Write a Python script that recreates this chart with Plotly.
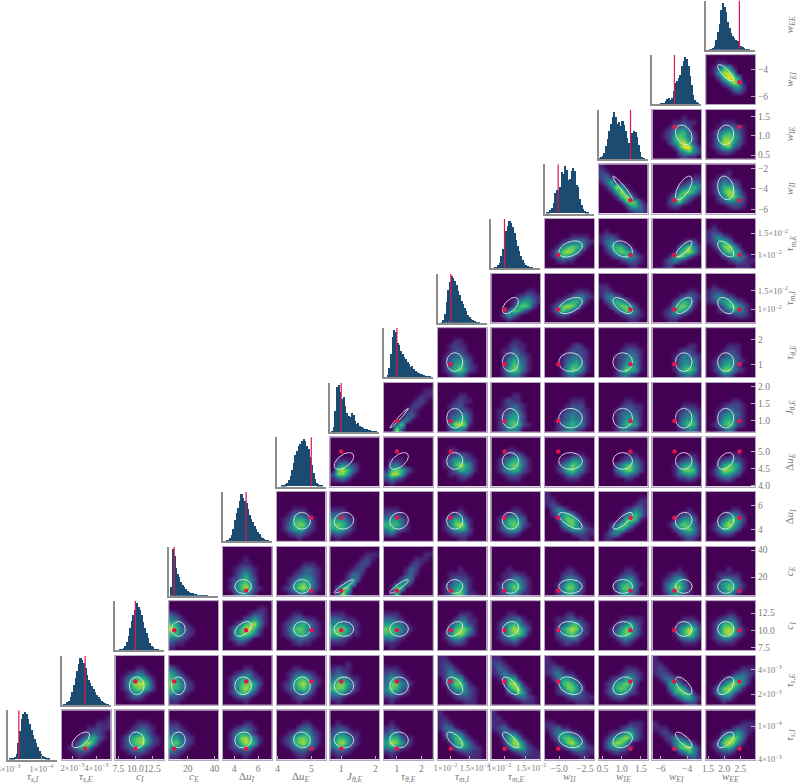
import numpy as np
import plotly.graph_objects as go

labels = ["<i>τ</i><sub><i>s,I</i></sub>", "<i>τ</i><sub><i>s,E</i></sub>", "<i>c</i><sub><i>I</i></sub>", "<i>c</i><sub><i>E</i></sub>",
          "Δ<i>u</i><sub><i>I</i></sub>", "Δ<i>u</i><sub><i>E</i></sub>", "<i>J</i><sub><i>θ,E</i></sub>", "<i>τ</i><sub><i>θ,E</i></sub>",
          "<i>τ</i><sub><i>m,I</i></sub>", "<i>τ</i><sub><i>m,E</i></sub>", "<i>w</i><sub><i>II</i></sub>", "<i>w</i><sub><i>IE</i></sub>",
          "<i>w</i><sub><i>EI</i></sub>", "<i>w</i><sub><i>EE</i></sub>"]
# axis ranges (log10 for the tau_s and tau_m parameters)
lo = [-4.404, -2.834, 7.07, 6.2, 3.06, 3.97, 0.676, 0.47, -2.125, -2.109, -6.38, 0.397, -6.6, 1.44]
hi = [-3.81, -2.22, 14.26, 42.6, 7.14, 5.42, 2.116, 2.47, -1.662, -1.704, -1.62, 1.68, -2.93, 2.955]
truth = [-4.273, -2.54, 10.0, 10.0, 5.0, 5.0, 1.0, 1.0, -2.0, -2.0, -5.1, 1.23, -4.95, 2.47]
log_axes = [0, 1, 8, 9]
L3 = "×10<sup>−3</sup>"
L4 = "×10<sup>−4</sup>"
L2 = "×10<sup>−2</sup>"
PAD = "\u00a0\u00a0\u00a0\u00a0\u00a0"
xtick_vals = [[-4.398, -4.0], [-2.699, -2.398], [7.5, 10, 12.5], [20, 40], [4, 6], [4, 5], [1, 2], [1, 2],
              [-2, -1.824], [-2, -1.824], [-5, -2.5], [0.5, 1, 1.5], [-6, -4], [1.5, 2, 2.5]]
xtick_text = [["4" + L3, "1" + L4], ["2" + L3, "4" + L3], ["7.5", "10.0", "12.5"], ["20", "40"], ["4", "6"], ["4", "5"], ["1", "2"], ["1", "2"],
              ["1" + L2 + PAD, PAD + "1.5" + L2], ["1" + L2 + PAD, PAD + "1.5" + L2], ["−5.0", "−2.5"], ["0.5", "1.0", "1.5"], ["−6", "−4"], ["1.5", "2.0", "2.5"]]
ytick_vals = [[-4.398, -4.0], [-2.699, -2.398], [7.5, 10, 12.5], [20, 40], [4, 6], [4, 4.5, 5], [1, 1.5, 2], [1, 2],
              [-2, -1.824], [-2, -1.824], [-6, -4, -2], [0.5, 1, 1.5], [-6, -4], []]
ytick_text = [["4" + L3, "1" + L4], ["2" + L3, "4" + L3], ["7.5", "10.0", "12.5"], ["20", "40"], ["4", "6"], ["4.0", "4.5", "5.0"], ["1.0", "1.5", "2.0"], ["1", "2"],
              ["1" + L2, "1.5" + L2], ["1" + L2, "1.5" + L2], ["−6", "−4", "−2"], ["0.5", "1.0", "1.5"], ["−6", "−4"], []]

# ellipse centre / half-width as fractions of each axis
ell_c = [.40, .39, .435, .19, .415, .52, .28, .31, .35, .39, .52, .49, .64, .40]
ell_r = [.16, .18, .15, .14, .17, .17, .20, .19, .165, .165, .24, .20, .17, .165]
rho_0 = [.6, -.1, 0, .1, -.1, -.05, -.05, -.65, -.75, -.2, .25, -.75, .6]
rho_1 = [0, 0, 0, 0, 0, 0, -.45, -.65, -.3, .3, -.65, .5]
rho_2 = [0, .5, 0, 0, 0, .4, .2, -.15, .1, 0, 0]
rho_3 = [0, 0, .92, .9, 0, 0, 0, 0, 0, 0]
rho_4 = [0, .1, .1, 0, -.1, -.7, .8, .1, .1]
rho_5 = [.55, .55, 0, 0, 0, 0, 0, .4]
rho_6 = [.98, 0, 0, 0, 0, 0, 0]
rho_7 = [0, 0, 0, 0, 0, 0]
rho_8 = [.55, .5, -.6, .55, -.4]
rho_9 = [.4, -.3, .8, -.6]
rho_10 = [-.95, .65, -.2]
rho_11 = [-.3, .1]
rho_12 = [-.8]
rhos = [rho_0, rho_1, rho_2, rho_3, rho_4, rho_5, rho_6, rho_7, rho_8, rho_9, rho_10, rho_11, rho_12]

# histogram heights over 30 equal bins spanning each axis
h_0 = [0, 1, 2, 3, 5, 12, 35, 60, 85, 95, 100, 95, 85, 75, 62, 52, 42, 35, 26, 18, 12, 8, 5, 3, 2, 1, 0, 0, 0, 0]
h_1 = [0, 1, 3, 6, 10, 18, 28, 42, 58, 72, 88, 100, 96, 90, 78, 64, 54, 46, 40, 34, 28, 22, 17, 13, 9, 6, 4, 2, 1, 0]
h_2 = [0, 0, 0, 1, 2, 5, 10, 18, 30, 48, 62, 75, 85, 100, 92, 85, 75, 60, 48, 36, 25, 16, 10, 6, 3, 2, 1, 0, 0, 0]
h_3 = [0, 20, 100, 85, 60, 48, 40, 30, 24, 20, 15, 12, 10, 8, 6, 5, 4, 3, 3, 2, 2, 1, 1, 1, 0, 0, 0, 0, 0, 0]
h_4 = [0, 0, 1, 3, 6, 14, 25, 45, 60, 70, 85, 100, 92, 85, 80, 68, 55, 48, 40, 32, 26, 20, 15, 10, 7, 4, 2, 1, 0, 0]
h_5 = [0, 0, 0, 1, 2, 4, 8, 14, 22, 35, 50, 65, 75, 85, 90, 95, 100, 96, 85, 78, 62, 45, 28, 15, 8, 4, 2, 1, 0, 0]
h_6 = [0, 3, 12, 45, 95, 100, 85, 70, 75, 55, 40, 34, 32, 40, 36, 24, 18, 20, 14, 12, 10, 8, 6, 5, 4, 3, 3, 2, 1, 0]
h_7 = [0, 0, 4, 20, 50, 85, 100, 95, 72, 68, 55, 50, 42, 38, 32, 28, 22, 24, 18, 14, 12, 10, 8, 6, 4, 3, 2, 2, 1, 0]
h_8 = [0, 0, 2, 6, 20, 45, 70, 88, 100, 95, 90, 80, 68, 60, 48, 40, 32, 25, 18, 13, 9, 6, 4, 2, 1, 1, 0, 0, 0, 0]
h_9 = [0, 0, 1, 3, 6, 12, 25, 40, 60, 78, 90, 100, 96, 88, 74, 60, 46, 36, 26, 18, 12, 8, 5, 3, 2, 1, 0, 0, 0, 0]
h_10 = [0, 1, 3, 6, 12, 22, 42, 50, 48, 55, 88, 82, 100, 92, 70, 72, 90, 95, 90, 60, 55, 30, 18, 10, 5, 2, 1, 0, 0, 0]
h_11 = [2, 4, 7, 14, 28, 42, 60, 75, 90, 100, 90, 75, 78, 70, 80, 72, 60, 45, 35, 42, 55, 60, 58, 48, 30, 15, 5, 2, 0, 0]
h_12 = [0, 0, 0, 0, 0, 1, 2, 3, 6, 12, 14, 10, 14, 28, 45, 50, 56, 62, 80, 92, 100, 95, 80, 60, 40, 20, 10, 4, 2, 0]
h_13 = [0, 0, 1, 2, 4, 10, 22, 38, 55, 85, 100, 92, 80, 60, 48, 36, 30, 26, 22, 20, 16, 10, 6, 4, 3, 2, 1, 0, 0, 0]
hists = [h_0, h_1, h_2, h_3, h_4, h_5, h_6, h_7, h_8, h_9, h_10, h_11, h_12, h_13]

# 2-D densities: coarse 10x10 cells, top row first, intensity 0-9
z_0 = [
"0000000000 0000000001 0000000111 0000011211 0000123210 0001356310 0013785100 0125741000 0012210000 0001000000",
"0000000000 0000000000 0000111000 0001232100 0013453100 0136775210 0136785210 0124642100 0012221000 0000100000",
"0000000000 0000000000 1100000000 2210000000 3321000000 5532100000 6742100000 5431000000 3210000000 1100000000",
"0000000000 0000000000 0000110000 0012321000 0135531000 0147864100 0136875100 0124541000 0011210000 0000100000",
"0000000000 0000000000 0000011000 0000233100 0012455210 0125776310 0125786310 0013453200 0001221000 0000110000",
"0000000000 0000000000 0100000000 1221000000 2442110000 3665210000 4785210000 3553100000 1221000000 0100000000",
"0000000000 0000000000 0100000000 1210000000 2431000000 4663110000 5875210000 4542100000 1210000000 0100000000",
"1000000000 1100000000 1210000000 1331000000 0245310000 0136631000 0015753100 0003553210 0000122110 0000001110",
"1000000000 1100000000 1110000000 1231000000 0134310000 0026741000 0015874100 0002675210 0000123211 0000001111",
"0000000000 0000000000 1100000000 1231100000 0245421000 0136764200 0014786410 0001355421 0000012211 0000000110",
"0000000000 0000000000 0000001110 0000123210 0012356310 0135786310 0258751000 0245421000 0012110000 0000000000",
"0000000000 0000000000 1000000000 1110000000 0121000000 0012432000 0001466410 0000367841 0000024641 0000000231",
"0000000000 0000000000 0000000111 0000012211 0002345310 0015786300 0137874100 0135641000 0012210000 0001000000",
]
z_1 = [
"0000000000 0000000000 0000110000 0012431000 0136664100 0147886200 0136775200 0014531000 0012210000 0000000000",
"0000000000 0000000000 3100000000 5310000000 6531000000 7642100000 6642100000 5321000000 2210000000 1100000000",
"0000000000 0000000000 0000110000 0012331000 0135642100 0146775200 0136864100 0136642000 0012210000 0000100000",
"0000000000 0000000000 0001100000 0012332100 0014665210 0125786310 0124675200 0012343100 0001221000 0000100000",
"0000000000 0001000000 1211000000 2321000000 3553110000 5775310000 6774210000 4542100000 2210000000 0100000000",
"0000000000 0000000000 1110000000 2321000000 3542100000 3774310000 4763200000 3532100000 1210000000 0100000000",
"1100000000 1210000000 1231000000 1243100000 0246510000 0147741000 0025642100 0013342100 0001222100 0000011100",
"1100000000 2210000000 1321000000 1242100000 0136510000 0017851000 0005783100 0002475100 0000123210 0000001110",
"1000000000 1100000000 1221000000 1242110000 0135531000 0016764100 0014775200 0012464210 0000122211 0000001110",
"0000000000 0000000000 0000011100 0000123210 0012355310 0125676200 0136764100 0134542100 0012210000 0000000000",
"1000000000 1100000000 1210000000 1221000000 0133210000 0015531000 0003675100 0001567510 0000135631 0000001220",
"0000000000 0000000000 0000000111 0000012321 0001245420 0013686410 0147864100 0156631000 0013310000 0001000000",
]
z_2 = [
"0000000000 0000000000 2100000000 4310000000 6521000000 8632100000 6632100000 4321000000 2110000000 1000000000",
"0000000000 0000000110 0000012210 0000235310 0013678410 0146886200 0146764100 0135420000 0012100000 0000000000",
"0000000000 0000000000 0001100000 0012321100 0124564210 0136764210 0125664210 0012332100 0001211000 0000000000",
"0000000000 0000000000 1110000000 3321100000 4543210000 6775210000 6764110000 3321000000 1110000000 0000000000",
"0000000000 0000000000 1110000000 3321000000 5543100000 7664210000 6653100000 3421000000 1110000000 0100000000",
"0000000000 0000000000 0000111000 0001331100 0014642100 0036775100 0147863100 0135420000 0012210000 0000000000",
"0000000000 0000000000 0001100000 0012331000 0135652100 0136875200 0136775100 0124531000 0011210000 0000000000",
"0000000000 0000000000 0000110000 0011231100 0012466210 0025787310 0024675210 0012343100 0001211000 0000000000",
"0000000000 0000000000 0000000000 0000112110 0001346310 0012576410 0013676310 0001343100 0000121000 0000000000",
"0000000000 0000000000 0000000000 0000001110 0000023431 0000146862 0000146852 0000023431 0000001110 0000000000",
"0000000000 0000000000 0000110000 0012331000 0136652000 0147873100 0147863100 0124421000 0011110000 0000000000",
]
z_3 = [
"0000000000 0000000000 0000100000 0001110000 0012321000 0013531000 0124642000 0136752000 0146862100 0024531000",
"0000000000 0000000000 0000000000 0000011100 0000123210 0001233210 0012455310 0014675310 0125786310 0012342100",
"0000000000 0000000111 0000001210 0000012200 0000122000 0001331000 0002430000 0025500000 0367000000 0283000000",
"0000000000 0000000011 0000001110 0000012100 0000132000 0000231000 0002430000 0025410000 0185000000 0170000000",
"0000000000 0000000000 0000000000 0000000000 0000100000 0011110000 0013221000 0124531000 0135641000 0136741100",
"0000000000 0000000000 0000000000 0000000000 0001000000 0011211000 0012442100 0125653100 0135763100 0124531100",
"0000000000 0000000000 0000000000 0000000000 0000110000 0001221000 0002443100 0013664200 0014775200 0013553100",
"0000000000 0000000000 0000000000 0000000000 0000011000 0000122100 0001345200 0002566310 0002676300 0001454200",
"0000000000 0000000000 0000000000 0000000000 0000010000 0001221000 0012453000 0024664100 0025774100 0013542100",
"0000000000 0000000000 0000000000 0000000000 0000100000 0011111000 0013432000 0135653100 0135763100 0123531000",
]
z_4 = [
"0000000000 0000000000 0000000000 0001110000 0013321000 0125653100 0136774100 0135652100 0012321000 0000100000",
"0000000000 0000000000 0000000000 1110000000 3321000000 5552100000 6764100000 5653100000 2321000000 0100000000",
"0000000000 0000000000 0000000000 1110000000 2321000000 4553100000 6664100000 4642100000 2310000000 0000000000",
"0000000000 0000000000 0000000000 0000100000 0012310000 0146531000 0147861000 0135652000 0012221000 0000110000",
"0000000000 0000000000 0000000000 0000110000 0012321000 0136643000 0146762100 0135641000 0012210000 0000000000",
"1000000000 1100000000 1210000000 0243100000 0135641000 0015775100 0003675210 0001355421 0000012211 0000000110",
"0000000000 0000000011 0000000121 0000012431 0000135641 0000267610 0013674100 0025631000 0134100000 0110000000",
"0000000000 0000000000 0000000000 0000000100 0000012210 0000135530 0001467631 0000246741 0000023431 0000001210",
"0000000000 0000000000 0000000000 0000011000 0001343100 0014675200 0136864100 0136642000 0012210000 0000000000",
]
z_5 = [
"0000000000 0000000000 0000000000 0000000000 0111000000 0353210000 0786310000 2775100000 1231000000 0000000000",
"0000000000 0000000000 0000000000 0000000000 0111000000 0341000000 1676310000 3885100000 2421000000 0100000000",
"0000000000 0000000000 0011000000 0012321000 0135532100 0136864100 0013654100 0011232000 0000110000 0000000000",
"0000000000 0000000000 0001100000 0011331000 0124653100 0136763100 0135652100 0012321000 0001110000 0000000000",
"0000000000 0000000000 0000000000 0000011100 0001245310 0013576410 0013675310 0001343100 0000111000 0000000000",
"0000000000 0000000000 0000000000 0000011100 0000123310 0002467420 0003577420 0001343200 0000011000 0000000000",
"0000000000 0000000000 0000000000 0000000110 0000012320 0000135641 0000147761 0000134541 0000011210 0000000000",
"0000000000 0000000000 0000000000 0000011000 0012342100 0025765100 0148764100 0135532000 0012210000 0000000000",
]
z_6 = [
"0000000000 0000000011 0000000111 0000001210 0000012100 0000121000 0000231000 0002410000 0037000000 0082000000",
"0000000000 0000000000 0000110000 0001211000 0012210000 0012321000 0023442000 0034652000 0048871000 0024420000",
"0000000000 0000000000 0000110000 0012110000 0012321000 0112431000 0124542000 0125642000 0136762100 0124430000",
"0000000000 0000000000 0000000000 0000011100 0000122200 0001233210 0002343310 0012354310 0013565410 0012442100",
"0000000000 0000000000 0000000000 0000011000 0000122110 0001233210 0001344310 0001355410 0001466510 0001342100",
"0000000000 0000000000 0000000000 0000000000 0000001110 0000012321 0000023441 0000024551 0000035761 0000012431",
"0000000000 0000000000 0000000000 0000011000 0001222100 0012332100 0024543100 0025642100 0136752100 0012420000",
]
z_7 = [
"0000000000 0000000000 0001100000 0012110000 0012210000 0123321000 0134542000 0135642100 0146752100 0013420000",
"0000000000 0000000000 0000110000 0001211000 0011321000 0012432100 0014643100 0014753100 0026763100 0013431000",
"0000000000 0000000000 0000000000 0000012100 0000122210 0001233210 0001345310 0001466410 0001576410 0001342100",
"0000000000 0000000000 0000000000 0000011100 0000123210 0001234310 0001245410 0001356410 0001476510 0001342100",
"0000000000 0000000000 0000000000 0000000110 0000012210 0000124321 0000134441 0000135541 0000146751 0000023421",
"0000000000 0000000000 0000000000 0000111000 0001221000 0012332000 0124542100 0135642000 0137742100 0013310000",
]
z_8 = [
"0000000000 0000000000 0000000000 0000000110 0000012321 0000135531 0000267620 0013763100 0025310000 0001000000",
"0000000000 0000000000 0000000000 0000001110 0000123421 0012466410 0137875100 0147531000 0012100000 0000000000",
"0000000000 0000000000 1100000000 1210000000 1342100000 0246531000 0025775200 0002476310 0000123210 0000001100",
"0000000000 0000000000 0000000000 0000000110 0000012321 0000246520 0001477510 0012665200 0012321000 0001100000",
"0000000000 0000000000 0100000000 1221000000 1343210000 1245642100 0013675310 0012354310 0000112210 0000000000",
]
z_9 = [
"0000000000 0000000000 0000000000 0000011110 0001234421 0014676510 0147875100 0136531000 0012110000 0000000000",
"0000000000 0000000000 0100000000 1221000000 1343100000 0256631000 0136765100 0013465310 0000123210 0000001100",
"0000000000 0000000000 0000000000 0000000000 0000001220 0000025741 0000157851 0001586310 0013421000 0012000000",
"0000000000 0100000000 1210000000 1342100000 1256410000 0137852000 0015765100 0002365310 0000123211 0000001110",
]
z_10 = [
"1000000000 2100000000 2310000000 1361000000 0148510000 0015851000 0001685100 0000168620 0000015631 0000001231",
"0000000000 0000000000 0000000011 0000001232 0000023564 0000157752 0001476310 0002573100 0001210000 0000000000",
"0000000000 0000100000 0012100000 0124321000 0136652000 0136874100 0024775200 0012443200 0000122100 0000000000",
]
z_11 = [
"0000000000 0000001000 0000112110 0001334200 0012466310 0012676420 0002578520 0000269941 0000035742 0000012110",
"0000000000 0000000000 0001110000 0012332100 0135653100 0147764100 0148853100 0136732000 0012210000 0000000000",
]
z_12 = [
"0000000000 0011000000 0136510000 0158850000 0026985000 0002587100 0000135200 0000012100 0000000000 0000000000",
]
zs = [z_0, z_1, z_2, z_3, z_4, z_5, z_6, z_7, z_8, z_9, z_10, z_11, z_12]

COL_LEFT, COL_STEP, PANEL_W = 8.0, 53.7, 49.0
ROW_TOP, ROW_STEP, PANEL_H = 0.5, 54.6, 49.3
W, H = 799, 783
N = 14
TICK = "#b4b4b4"
TXT = "#7a7a7a"
FONT = "Liberation Serif"
RED = "#e0174f"
fig = go.Figure()
layout = {}
axis_id = 0


def add_axes(u, v, heat):
    global axis_id
    axis_id += 1
    sfx = "" if axis_id == 1 else str(axis_id)
    r = N - 1 - v
    x0 = (COL_LEFT + COL_STEP * u) / W
    top = ROW_TOP + ROW_STEP * r
    common = dict(showgrid=False, zeroline=False, ticks="inside", ticklen=4, tickwidth=1, tickcolor=TICK, tickangle=0,
                  ticklabeloverflow="allow", showline=True)
    line = dict(linecolor="#b5a6c2", linewidth=1, mirror=True) if heat else dict(linecolor="#8c8c8c", linewidth=1.5, mirror=False)
    xfs = 8.5 if u in log_axes else 9.5
    yfs = 8.5 if v in log_axes else 9.5
    xa = dict(common, **line, domain=[x0, x0 + PANEL_W / W], range=[lo[u], hi[u]], anchor="y" + sfx,
              tickfont=dict(family=FONT, size=xfs, color=TXT))
    if v == 0:
        xa.update(tickmode="array", tickvals=xtick_vals[u], ticktext=xtick_text[u])
    else:
        xa.update(showticklabels=False, ticks="", tickmode="array", tickvals=[])
    ya = dict(common, **line, domain=[1 - (top + PANEL_H) / H, 1 - top / H], anchor="x" + sfx,
              tickfont=dict(family=FONT, size=yfs, color=TXT))
    if heat:
        ya["range"] = [lo[v], hi[v]]
        if u == N - 1:
            ya.update(side="right", tickmode="array", tickvals=ytick_vals[v], ticktext=ytick_text[v])
        else:
            ya.update(showticklabels=False, ticks="", tickmode="array", tickvals=[])
    else:
        ya.update(range=[0, 104], showticklabels=False, ticks="", tickmode="array", tickvals=[])
    layout["xaxis" + sfx] = xa
    layout["yaxis" + sfx] = ya
    return "x" + sfx, "y" + sfx


for i in range(N):
    xr, yr = add_axes(i, i, False)
    w = (hi[i] - lo[i]) / 30
    cen = lo[i] + w * (np.arange(30) + .5)
    fig.add_trace(go.Bar(x=cen, y=hists[i], width=w, marker=dict(color="#1b4b70", line=dict(width=0)),
                         xaxis=xr, yaxis=yr, showlegend=False, hoverinfo="skip"))
    fig.add_trace(go.Scatter(x=[truth[i], truth[i]], y=[0, 104], mode="lines", line=dict(color=RED, width=1.2),
                             xaxis=xr, yaxis=yr, showlegend=False, hoverinfo="skip"))

t = np.linspace(0, 2 * np.pi, 60)
for v in range(N - 1):
    for k, u in enumerate(range(v + 1, N)):
        xr, yr = add_axes(u, v, True)
        z = [[int(c) for c in row] for row in zs[v][k].split()][::-1]
        dx = (hi[u] - lo[u]) / 10
        dy = (hi[v] - lo[v]) / 10
        fig.add_trace(go.Heatmap(z=z, x0=lo[u] + dx / 2, dx=dx, y0=lo[v] + dy / 2, dy=dy, colorscale="Viridis", zmin=0, zmax=9,
                                 zsmooth="best", showscale=False, xaxis=xr, yaxis=yr, hoverinfo="skip"))
        rho = rhos[v][k]
        sx = ell_r[u] * (hi[u] - lo[u])
        sy = ell_r[v] * (hi[v] - lo[v])
        mx = lo[u] + ell_c[u] * (hi[u] - lo[u])
        my = lo[v] + ell_c[v] * (hi[v] - lo[v])
        ex = mx + sx * np.cos(t)
        ey = my + sy * (rho * np.cos(t) + np.sqrt(1 - rho ** 2) * np.sin(t))
        fig.add_trace(go.Scatter(x=ex, y=ey, mode="lines", line=dict(color="rgba(235,235,240,.85)", width=1),
                                 xaxis=xr, yaxis=yr, showlegend=False, hoverinfo="skip"))
        fig.add_trace(go.Scatter(x=[truth[u]], y=[truth[v]], mode="markers", marker=dict(color=RED, size=4.5, symbol="circle"),
                                 xaxis=xr, yaxis=yr, showlegend=False, hoverinfo="skip"))

ann = []
for i in range(N):
    ann.append(dict(text=labels[i], xref="paper", yref="paper", showarrow=False, x=(COL_LEFT + COL_STEP * i + PANEL_W / 2) / W, y=1 - 776.5 / H,
                    xanchor="center", yanchor="middle", font=dict(family=FONT, size=11, color=TXT)))
    r = N - 1 - i
    ann.append(dict(text=labels[i], xref="paper", yref="paper", showarrow=False, x=790 / W, y=1 - (ROW_TOP + ROW_STEP * r + PANEL_H / 2) / H,
                    xanchor="center", yanchor="middle", textangle=-90, font=dict(family=FONT, size=11, color=TXT)))

fig.update_layout(width=W, height=H, margin=dict(l=0, r=0, t=0, b=0, autoexpand=False), paper_bgcolor="white", plot_bgcolor="white",
                  bargap=0, showlegend=False, annotations=ann, **layout)
fig.write_html("out.html", config={"displayModeBar": False},
               post_script="document.body.style.margin='0';document.body.style.overflow='hidden';")
